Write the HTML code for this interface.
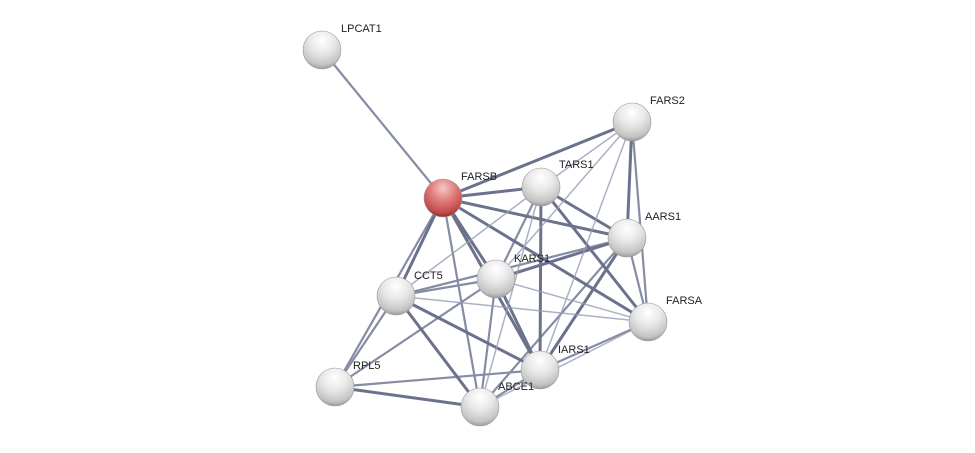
<!DOCTYPE html>
<html><head><meta charset="utf-8"><style>
html,body{margin:0;padding:0;background:#fff;}
svg{display:block;}
text{font-family:"Liberation Sans",sans-serif;font-size:11px;fill:#222;}
</style></head><body>
<svg width="975" height="453" viewBox="0 0 975 453" xmlns="http://www.w3.org/2000/svg">
<defs>
<radialGradient id="g" cx="0.5" cy="0.25" r="0.75">
<stop offset="0" stop-color="#ffffff"/><stop offset="0.45" stop-color="#e8e8e8"/><stop offset="0.85" stop-color="#c4c4c4"/><stop offset="1" stop-color="#9a9a9a"/>
</radialGradient>
<radialGradient id="r" cx="0.5" cy="0.25" r="0.75">
<stop offset="0" stop-color="#f6c8c8"/><stop offset="0.45" stop-color="#e07a7a"/><stop offset="0.85" stop-color="#c04a4a"/><stop offset="1" stop-color="#8e2c2c"/>
</radialGradient>
</defs>
<g stroke-linecap="round">
<g stroke="#525a78" stroke-width="3" opacity="0.85">
<line x1="443" y1="198" x2="632" y2="122"/>
<line x1="443" y1="198" x2="627" y2="238"/>
<line x1="443" y1="198" x2="496" y2="279"/>
<line x1="443" y1="198" x2="396" y2="296"/>
<line x1="443" y1="198" x2="648" y2="322"/>
<line x1="443" y1="198" x2="540" y2="370"/>
<line x1="443" y1="198" x2="541" y2="187"/>
<line x1="541" y1="187" x2="540" y2="370"/>
<line x1="627" y1="238" x2="540" y2="370"/>
<line x1="496" y1="279" x2="540" y2="370"/>
<line x1="496" y1="279" x2="627" y2="238"/>
<line x1="541" y1="187" x2="627" y2="238"/>
<line x1="541" y1="187" x2="648" y2="322"/>
<line x1="632" y1="122" x2="627" y2="238"/>
<line x1="335" y1="387" x2="480" y2="407"/>
<line x1="396" y1="296" x2="480" y2="407"/>
<line x1="396" y1="296" x2="540" y2="370"/>
</g>
<g stroke="#67708e" stroke-width="2.2" opacity="0.8">
<line x1="322" y1="50" x2="443" y2="198"/>
<line x1="443" y1="198" x2="335" y2="387"/>
<line x1="443" y1="198" x2="480" y2="407"/>
<line x1="541" y1="187" x2="496" y2="279"/>
<line x1="632" y1="122" x2="648" y2="322"/>
<line x1="627" y1="238" x2="648" y2="322"/>
<line x1="627" y1="238" x2="396" y2="296"/>
<line x1="496" y1="279" x2="396" y2="296"/>
<line x1="496" y1="279" x2="480" y2="407"/>
<line x1="496" y1="279" x2="335" y2="387"/>
<line x1="396" y1="296" x2="335" y2="387"/>
<line x1="648" y1="322" x2="540" y2="370"/>
<line x1="540" y1="370" x2="480" y2="407"/>
<line x1="540" y1="370" x2="335" y2="387"/>
<line x1="627" y1="238" x2="480" y2="407"/>
</g>
<g stroke="#989db6" stroke-width="1.5" opacity="0.8">
<line x1="541" y1="187" x2="632" y2="122"/>
<line x1="541" y1="187" x2="396" y2="296"/>
<line x1="541" y1="187" x2="480" y2="407"/>
<line x1="632" y1="122" x2="496" y2="279"/>
<line x1="632" y1="122" x2="540" y2="370"/>
<line x1="496" y1="279" x2="648" y2="322"/>
<line x1="396" y1="296" x2="648" y2="322"/>
<line x1="648" y1="322" x2="480" y2="407"/>
</g>
</g>
<g stroke="#999" stroke-width="0.6">
<circle cx="322" cy="50" r="19" fill="url(#g)"/>
<circle cx="632" cy="122" r="19" fill="url(#g)"/>
<circle cx="541" cy="187" r="19" fill="url(#g)"/>
<circle cx="627" cy="238" r="19" fill="url(#g)"/>
<circle cx="496" cy="279" r="19" fill="url(#g)"/>
<circle cx="396" cy="296" r="19" fill="url(#g)"/>
<circle cx="648" cy="322" r="19" fill="url(#g)"/>
<circle cx="540" cy="370" r="19" fill="url(#g)"/>
<circle cx="335" cy="387" r="19" fill="url(#g)"/>
<circle cx="480" cy="407" r="19" fill="url(#g)"/>
<circle cx="443" cy="198" r="19" fill="url(#r)"/>
</g>
<text x="341" y="32">LPCAT1</text>
<text x="461" y="180">FARSB</text>
<text x="650" y="104">FARS2</text>
<text x="559" y="168">TARS1</text>
<text x="645" y="220">AARS1</text>
<text x="514" y="262">KARS1</text>
<text x="414" y="279">CCT5</text>
<text x="666" y="304">FARSA</text>
<text x="558" y="353">IARS1</text>
<text x="353" y="369">RPL5</text>
<text x="498" y="390">ABCE1</text>
</svg>
</body></html>
